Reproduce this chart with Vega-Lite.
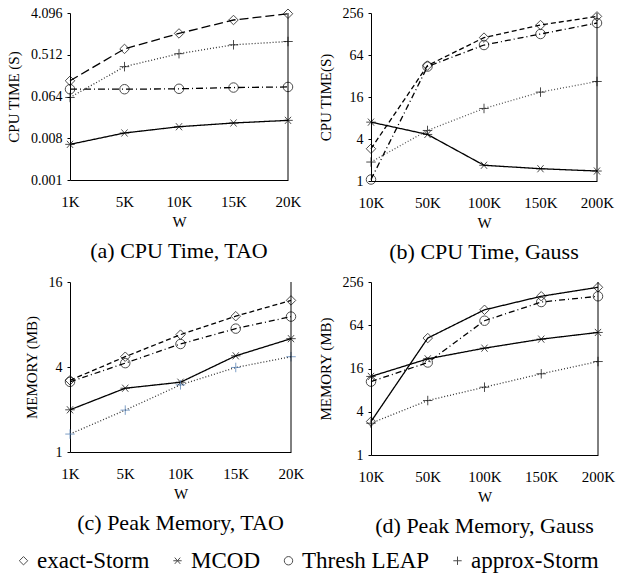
{
  "$schema": "https://vega.github.io/schema/vega-lite/v6.json",
  "background": "white",
  "padding": {"left": 6, "top": 6, "right": 3, "bottom": 2},
  "datasets": {
    "d": [
      {"panel":"a","W":"1K","series":"exact-Storm","value":0.14},
      {"panel":"a","W":"5K","series":"exact-Storm","value":0.685},
      {"panel":"a","W":"10K","series":"exact-Storm","value":1.48},
      {"panel":"a","W":"15K","series":"exact-Storm","value":2.89},
      {"panel":"a","W":"20K","series":"exact-Storm","value":3.95},
      {"panel":"a","W":"1K","series":"approx-Storm","value":0.061},
      {"panel":"a","W":"5K","series":"approx-Storm","value":0.283},
      {"panel":"a","W":"10K","series":"approx-Storm","value":0.54},
      {"panel":"a","W":"15K","series":"approx-Storm","value":0.84},
      {"panel":"a","W":"20K","series":"approx-Storm","value":0.99},
      {"panel":"a","W":"1K","series":"Thresh LEAP","value":0.092},
      {"panel":"a","W":"5K","series":"Thresh LEAP","value":0.092},
      {"panel":"a","W":"10K","series":"Thresh LEAP","value":0.094},
      {"panel":"a","W":"15K","series":"Thresh LEAP","value":0.1},
      {"panel":"a","W":"20K","series":"Thresh LEAP","value":0.103},
      {"panel":"a","W":"1K","series":"MCOD","value":0.0059},
      {"panel":"a","W":"5K","series":"MCOD","value":0.0104},
      {"panel":"a","W":"10K","series":"MCOD","value":0.0142},
      {"panel":"a","W":"15K","series":"MCOD","value":0.0171},
      {"panel":"a","W":"20K","series":"MCOD","value":0.0195},

      {"panel":"b","W":"10K","series":"exact-Storm","value":2.9},
      {"panel":"b","W":"50K","series":"exact-Storm","value":45.2},
      {"panel":"b","W":"100K","series":"exact-Storm","value":113.6},
      {"panel":"b","W":"150K","series":"exact-Storm","value":172},
      {"panel":"b","W":"200K","series":"exact-Storm","value":229},
      {"panel":"b","W":"10K","series":"Thresh LEAP","value":1.05},
      {"panel":"b","W":"50K","series":"Thresh LEAP","value":43.7},
      {"panel":"b","W":"100K","series":"Thresh LEAP","value":89},
      {"panel":"b","W":"150K","series":"Thresh LEAP","value":128},
      {"panel":"b","W":"200K","series":"Thresh LEAP","value":184},
      {"panel":"b","W":"10K","series":"approx-Storm","value":1.87},
      {"panel":"b","W":"50K","series":"approx-Storm","value":5.3},
      {"panel":"b","W":"100K","series":"approx-Storm","value":10.96},
      {"panel":"b","W":"150K","series":"approx-Storm","value":18.8},
      {"panel":"b","W":"200K","series":"approx-Storm","value":26.7},
      {"panel":"b","W":"10K","series":"MCOD","value":6.98},
      {"panel":"b","W":"50K","series":"MCOD","value":4.65},
      {"panel":"b","W":"100K","series":"MCOD","value":1.68},
      {"panel":"b","W":"150K","series":"MCOD","value":1.5},
      {"panel":"b","W":"200K","series":"MCOD","value":1.39},

      {"panel":"c","W":"1K","series":"exact-Storm","value":3.22},
      {"panel":"c","W":"5K","series":"exact-Storm","value":4.73},
      {"panel":"c","W":"10K","series":"exact-Storm","value":6.78},
      {"panel":"c","W":"15K","series":"exact-Storm","value":9.16},
      {"panel":"c","W":"20K","series":"exact-Storm","value":11.85},
      {"panel":"c","W":"1K","series":"Thresh LEAP","value":3.14},
      {"panel":"c","W":"5K","series":"Thresh LEAP","value":4.26},
      {"panel":"c","W":"10K","series":"Thresh LEAP","value":5.82},
      {"panel":"c","W":"15K","series":"Thresh LEAP","value":7.48},
      {"panel":"c","W":"20K","series":"Thresh LEAP","value":9.1},
      {"panel":"c","W":"1K","series":"MCOD","value":1.99},
      {"panel":"c","W":"5K","series":"MCOD","value":2.83},
      {"panel":"c","W":"10K","series":"MCOD","value":3.12},
      {"panel":"c","W":"15K","series":"MCOD","value":4.8},
      {"panel":"c","W":"20K","series":"MCOD","value":6.35},
      {"panel":"c","W":"1K","series":"approx-Storm","value":1.34},
      {"panel":"c","W":"5K","series":"approx-Storm","value":1.98},
      {"panel":"c","W":"10K","series":"approx-Storm","value":2.99},
      {"panel":"c","W":"15K","series":"approx-Storm","value":3.97},
      {"panel":"c","W":"20K","series":"approx-Storm","value":4.73},

      {"panel":"d","W":"10K","series":"exact-Storm","value":2.92},
      {"panel":"d","W":"50K","series":"exact-Storm","value":42.4},
      {"panel":"d","W":"100K","series":"exact-Storm","value":105},
      {"panel":"d","W":"150K","series":"exact-Storm","value":162},
      {"panel":"d","W":"200K","series":"exact-Storm","value":216},
      {"panel":"d","W":"10K","series":"Thresh LEAP","value":10.5},
      {"panel":"d","W":"50K","series":"Thresh LEAP","value":19.4},
      {"panel":"d","W":"100K","series":"Thresh LEAP","value":74},
      {"panel":"d","W":"150K","series":"Thresh LEAP","value":134.7},
      {"panel":"d","W":"200K","series":"Thresh LEAP","value":162},
      {"panel":"d","W":"10K","series":"MCOD","value":12.4},
      {"panel":"d","W":"50K","series":"MCOD","value":21.8},
      {"panel":"d","W":"100K","series":"MCOD","value":30.7},
      {"panel":"d","W":"150K","series":"MCOD","value":41},
      {"panel":"d","W":"200K","series":"MCOD","value":50.8},
      {"panel":"d","W":"10K","series":"approx-Storm","value":2.77},
      {"panel":"d","W":"50K","series":"approx-Storm","value":5.73},
      {"panel":"d","W":"100K","series":"approx-Storm","value":8.79},
      {"panel":"d","W":"150K","series":"approx-Storm","value":13.5},
      {"panel":"d","W":"200K","series":"approx-Storm","value":20}
    ]
  },
  "columns": 2,
  "align": "none",
  "spacing": {"row": 12, "column": 14},
  "concat": [
    {
      "width": 218, "height": 167,
      "title": {"text": "(a) CPU Time, TAO"},
      "layer": [
        {"data": {"name": "d"}, "transform": [{"filter": "datum.panel === 'a'"}],
         "mark": {"type": "line", "strokeWidth": 1.3},
         "encoding": {
           "x": {"field": "W", "type": "ordinal", "sort": ["1K","5K","10K","15K","20K"], "scale": {"type": "point", "padding": 0}, "axis": {"title": "W"}},
           "y": {"field": "value", "type": "quantitative", "scale": {"type": "log", "domain": [0.001, 4.096], "nice": false}, "axis": {"values": [0.001,0.008,0.064,0.512,4.096], "format": ".3f", "title": "CPU TIME (S)"}},
           "detail": {"field": "series"},
           "strokeDash": {"field": "series", "scale": {"domain": ["exact-Storm","MCOD","Thresh LEAP","approx-Storm"], "range": [[9,4],[1,0],[7,3,1,3],[1,2]]}, "legend": null},
           "color": {"field": "series", "scale": {"domain": ["exact-Storm","MCOD","Thresh LEAP","approx-Storm"], "range": ["#000000","#000000","#000000","#333333"]}, "legend": null}
         }},
        {"data": {"name": "d"}, "transform": [{"filter": "datum.panel === 'a'"}],
         "mark": {"type": "point", "filled": false, "size": 90, "strokeWidth": 1, "color": "black"},
         "encoding": {
           "x": {"field": "W", "type": "ordinal", "sort": ["1K","5K","10K","15K","20K"], "scale": {"type": "point", "padding": 0}},
           "y": {"field": "value", "type": "quantitative"},
           "shape": {"field": "series", "scale": {"domain": ["exact-Storm","MCOD","Thresh LEAP","approx-Storm"], "range": ["diamond", "M-1,0L1,0M-0.65,-0.75L0.65,0.75M-0.65,0.75L0.65,-0.75", "circle", "M-1,0L1,0M0,-1L0,1"]}, "legend": {"title": null}}
         }},
        {"data": {"values": [{"panel": "a"}]},
         "mark": {"type": "rule", "color": "black", "strokeWidth": 1}, "encoding": {"x": {"datum": "20K", "scale": {"type": "point", "padding": 0}}}}
      ]
    },
    {
      "width": 226, "height": 168,
      "title": {"text": "(b) CPU Time, Gauss"},
      "layer": [
        {"data": {"name": "d"}, "transform": [{"filter": "datum.panel === 'b'"}],
         "mark": {"type": "line", "strokeWidth": 1.3},
         "encoding": {
           "x": {"field": "W", "type": "ordinal", "sort": ["10K","50K","100K","150K","200K"], "scale": {"type": "point", "padding": 0}, "axis": {"title": "W"}},
           "y": {"field": "value", "type": "quantitative", "scale": {"type": "log", "domain": [1, 256], "nice": false}, "axis": {"values": [1,4,16,64,256], "format": "d", "title": "CPU TIME(S)"}},
           "detail": {"field": "series"},
           "strokeDash": {"field": "series", "scale": {"domain": ["exact-Storm","MCOD","Thresh LEAP","approx-Storm"], "range": [[5,3],[1,0],[6,3,1,3],[1,2]]}, "legend": null},
           "color": {"field": "series", "scale": {"domain": ["exact-Storm","MCOD","Thresh LEAP","approx-Storm"], "range": ["#000000","#000000","#000000","#555555"]}, "legend": null}
         }},
        {"data": {"name": "d"}, "transform": [{"filter": "datum.panel === 'b'"}],
         "mark": {"type": "point", "filled": false, "size": 90, "strokeWidth": 1, "color": "black"},
         "encoding": {
           "x": {"field": "W", "type": "ordinal", "sort": ["10K","50K","100K","150K","200K"], "scale": {"type": "point", "padding": 0}},
           "y": {"field": "value", "type": "quantitative"},
           "shape": {"field": "series", "scale": {"domain": ["exact-Storm","MCOD","Thresh LEAP","approx-Storm"], "range": ["diamond", "M-1,0L1,0M-0.65,-0.75L0.65,0.75M-0.65,0.75L0.65,-0.75", "circle", "M-1,0L1,0M0,-1L0,1"]}, "legend": {"title": null}}
         }},
        {"data": {"values": [{"panel": "b"}]},
         "mark": {"type": "rule", "color": "black", "strokeWidth": 1}, "encoding": {"x": {"datum": "200K", "scale": {"type": "point", "padding": 0}}}}
      ]
    },
    {
      "width": 221, "height": 170,
      "title": {"text": "(c) Peak Memory, TAO"},
      "layer": [
        {"data": {"name": "d"}, "transform": [{"filter": "datum.panel === 'c'"}],
         "mark": {"type": "line", "strokeWidth": 1.3},
         "encoding": {
           "x": {"field": "W", "type": "ordinal", "sort": ["1K","5K","10K","15K","20K"], "scale": {"type": "point", "padding": 0}, "axis": {"title": "W"}},
           "y": {"field": "value", "type": "quantitative", "scale": {"type": "log", "domain": [1, 16], "nice": false}, "axis": {"values": [1,4,16], "format": "d", "title": "MEMORY (MB)"}},
           "detail": {"field": "series"},
           "strokeDash": {"field": "series", "scale": {"domain": ["exact-Storm","MCOD","Thresh LEAP","approx-Storm"], "range": [[5,3],[1,0],[6,3,1,3],[1,2]]}, "legend": null},
           "color": {"field": "series", "scale": {"domain": ["exact-Storm","MCOD","Thresh LEAP","approx-Storm"], "range": ["#000000","#000000","#000000","#333333"]}, "legend": null}
         }},
        {"data": {"name": "d"}, "transform": [{"filter": "datum.panel === 'c'"}],
         "mark": {"type": "point", "filled": false, "size": 90, "strokeWidth": 1},
         "encoding": {
           "x": {"field": "W", "type": "ordinal", "sort": ["1K","5K","10K","15K","20K"], "scale": {"type": "point", "padding": 0}},
           "y": {"field": "value", "type": "quantitative"},
           "shape": {"field": "series", "scale": {"domain": ["exact-Storm","MCOD","Thresh LEAP","approx-Storm"], "range": ["diamond", "M-1,0L1,0M-0.65,-0.75L0.65,0.75M-0.65,0.75L0.65,-0.75", "circle", "M-1,0L1,0M0,-1L0,1"]}, "legend": {"title": null}},
           "stroke": {"field": "series", "scale": {"domain": ["exact-Storm","MCOD","Thresh LEAP","approx-Storm"], "range": ["#000000","#000000","#000000","#4a78b0"]}, "legend": null}
         }},
        {"data": {"values": [{"panel": "c"}]},
         "mark": {"type": "rule", "color": "black", "strokeWidth": 1}, "encoding": {"x": {"datum": "20K", "scale": {"type": "point", "padding": 0}}}}
      ]
    },
    {
      "width": 227, "height": 173,
      "title": {"text": "(d) Peak Memory, Gauss"},
      "layer": [
        {"data": {"name": "d"}, "transform": [{"filter": "datum.panel === 'd'"}],
         "mark": {"type": "line", "strokeWidth": 1.3},
         "encoding": {
           "x": {"field": "W", "type": "ordinal", "sort": ["10K","50K","100K","150K","200K"], "scale": {"type": "point", "padding": 0}, "axis": {"title": "W"}},
           "y": {"field": "value", "type": "quantitative", "scale": {"type": "log", "domain": [1, 256], "nice": false}, "axis": {"values": [1,4,16,64,256], "format": "d", "title": "MEMORY (MB)"}},
           "detail": {"field": "series"},
           "strokeDash": {"field": "series", "scale": {"domain": ["exact-Storm","MCOD","Thresh LEAP","approx-Storm"], "range": [[1,0],[1,0],[6,3,1,3],[1,2]]}, "legend": null},
           "color": {"field": "series", "scale": {"domain": ["exact-Storm","MCOD","Thresh LEAP","approx-Storm"], "range": ["#000000","#000000","#000000","#333333"]}, "legend": null}
         }},
        {"data": {"name": "d"}, "transform": [{"filter": "datum.panel === 'd'"}],
         "mark": {"type": "point", "filled": false, "size": 90, "strokeWidth": 1, "color": "black"},
         "encoding": {
           "x": {"field": "W", "type": "ordinal", "sort": ["10K","50K","100K","150K","200K"], "scale": {"type": "point", "padding": 0}},
           "y": {"field": "value", "type": "quantitative"},
           "shape": {"field": "series", "scale": {"domain": ["exact-Storm","MCOD","Thresh LEAP","approx-Storm"], "range": ["diamond", "M-1,0L1,0M-0.65,-0.75L0.65,0.75M-0.65,0.75L0.65,-0.75", "circle", "M-1,0L1,0M0,-1L0,1"]}, "legend": {"title": null}}
         }},
        {"data": {"values": [{"panel": "d"}]},
         "mark": {"type": "rule", "color": "black", "strokeWidth": 1}, "encoding": {"x": {"datum": "200K", "scale": {"type": "point", "padding": 0}}}}
      ]
    }
  ],
  "resolve": {
    "scale": {"x": "independent", "y": "independent", "strokeDash": "independent", "color": "independent", "stroke": "independent", "shape": "shared"},
    "legend": {"shape": "shared"}
  },
  "config": {
    "font": "Liberation Serif",
    "view": {"stroke": null},
    "axis": {
      "grid": false,
      "domainColor": "black",
      "tickColor": "black",
      "labelColor": "black",
      "titleColor": "black",
      "labelFont": "Liberation Serif",
      "titleFont": "Liberation Serif",
      "labelFontSize": 14,
      "titleFontSize": 15,
      "titleFontWeight": "normal",
      "tickSize": 3
    },
    "axisX": {"labelAngle": 0, "ticks": false, "labelPadding": 14, "titlePadding": 5, "labelFontSize": 15},
    "axisY": {"labelPadding": 5, "titlePadding": 9, "minExtent": 0},
    "title": {
      "orient": "bottom",
      "font": "Liberation Serif",
      "fontSize": 22,
      "fontWeight": "normal",
      "color": "black",
      "offset": 12
    },
    "legend": {
      "orient": "none",
      "legendX": -58,
      "legendY": 536,
      "direction": "horizontal",
      "labelFont": "Liberation Serif",
      "labelFontSize": 23,
      "labelColor": "black",
      "symbolStrokeColor": "black",
      "symbolStrokeWidth": 1,
      "symbolSize": 70,
      "columnPadding": 16,
      "labelOffset": 2
    }
  }
}
